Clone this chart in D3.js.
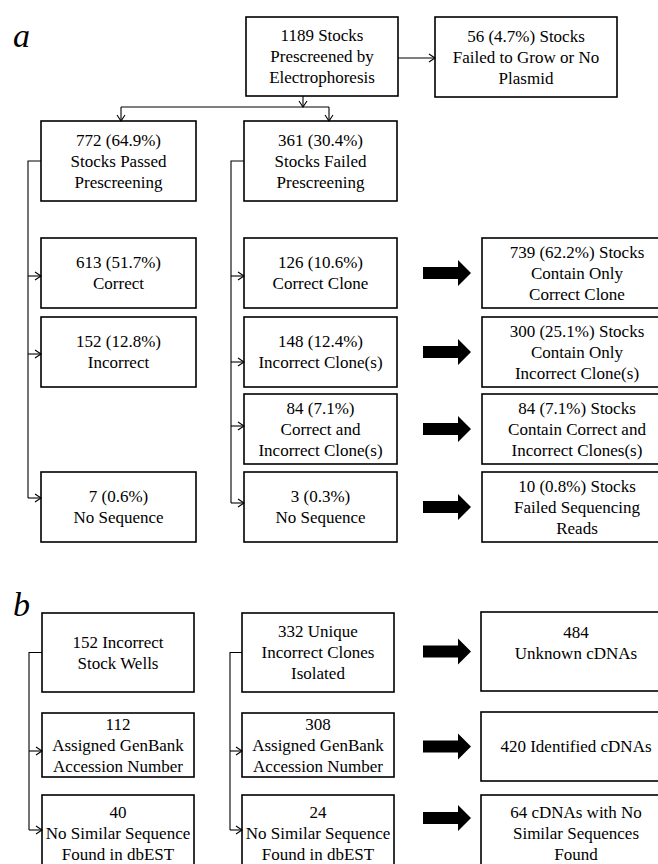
<!DOCTYPE html>
<html>
<head>
<meta charset="utf-8">
<script src="https://cdn.jsdelivr.net/npm/d3@7"></script>
<style>
  body { margin: 0; background: #fff; }
</style>
</head>
<body>
<div id="chart"></div>
<script>
// box texts, one array per column, one entry per row (null = no box)
var startBox = ["1189 Stocks", "Prescreened by", "Electrophoresis"];
var failBox = ["56 (4.7%) Stocks", "Failed to Grow or No", "Plasmid"];

var passedCol = [
  ["772 (64.9%)", "Stocks Passed", "Prescreening"],
  ["613 (51.7%)", "Correct"],
  ["152 (12.8%)", "Incorrect"],
  null,
  ["7 (0.6%)", "No Sequence"]
];
var failedCol = [
  ["361 (30.4%)", "Stocks Failed", "Prescreening"],
  ["126 (10.6%)", "Correct Clone"],
  ["148 (12.4%)", "Incorrect Clone(s)"],
  ["84 (7.1%)", "Correct and", "Incorrect Clone(s)"],
  ["3 (0.3%)", "No Sequence"]
];
var summaryCol = [
  null,
  ["739 (62.2%) Stocks", "Contain Only", "Correct Clone"],
  ["300 (25.1%) Stocks", "Contain Only", "Incorrect Clone(s)"],
  ["84 (7.1%) Stocks", "Contain Correct and", "Incorrect Clones(s)"],
  ["10 (0.8%) Stocks", "Failed Sequencing", "Reads"]
];

var wellsCol = [
  ["152 Incorrect", "Stock Wells"],
  ["112", "Assigned GenBank", "Accession Number"],
  ["40", "No Similar Sequence", "Found in dbEST"]
];
var clonesCol = [
  ["332 Unique", "Incorrect Clones", "Isolated"],
  ["308", "Assigned GenBank", "Accession Number"],
  ["24", "No Similar Sequence", "Found in dbEST"]
];
var cdnaCol = [
  ["484", "Unknown cDNAs"],
  ["420 Identified cDNAs"],
  ["64 cDNAs with No", "Similar Sequences", "Found"]
];

var width = 658, height = 864;
var fs = 17, lh = 21;
var serif = "'Liberation Serif', 'Times New Roman', Times, 'DejaVu Serif', serif";

var svg = d3.select("#chart").append("svg")
    .attr("width", width)
    .attr("height", height)
    .attr("font-family", serif);

// layout scales
var colA = d3.scaleOrdinal().domain(["c1", "c2", "c3"]).range([[41, 155], [244, 153], [482, 190]]);
var rowA = d3.scaleOrdinal().domain([0, 1, 2, 3, 4]).range([[121, 80], [238, 70], [317, 70], [394, 70], [472, 70]]);
var colB = d3.scaleOrdinal().domain(["c1", "c2", "c3"]).range([[42, 152], [242, 152], [481, 190]]);
var rowB = d3.scaleOrdinal().domain([0, 1, 2]).range([[613, 79], [713, 64], [795, 76]]);
var rowB3 = d3.scaleOrdinal().domain([0, 1, 2]).range([[612, 79], [712, 69], [795, 76]]);

function drawBox(x, y, w, h, lines, dy) {
  var g = svg.append("g");
  g.append("rect")
      .attr("x", x).attr("y", y)
      .attr("width", w).attr("height", h)
      .attr("fill", "none")
      .attr("stroke", "#000")
      .attr("stroke-width", 1.6);
  var cy = y + h / 2 + (dy || 0);
  g.selectAll("text").data(lines).enter().append("text")
      .attr("x", x + w / 2)
      .attr("y", function (d, i) { return cy + (i - (lines.length - 1) / 2) * lh + fs * 0.34; })
      .attr("text-anchor", "middle")
      .attr("font-family", serif)
      .attr("font-size", fs)
      .attr("fill", "#000")
      .text(function (d) { return d; });
}

function line(pts) {
  svg.append("path")
      .attr("d", d3.line()(pts))
      .attr("fill", "none")
      .attr("stroke", "#000")
      .attr("stroke-width", 1.1);
}

// small open arrowhead, tip at (x, y); dir "r" or "d"
function head(x, y, dir) {
  var p = dir === "r" ? [[x - 6, y - 4], [x, y], [x - 6, y + 4]] : [[x - 4, y - 6], [x, y], [x + 4, y - 6]];
  line(p);
}

function bigArrow(y) {
  var x0 = 423, xb = 458, x1 = 471;
  svg.append("path")
      .attr("d", d3.line()([[x0, y - 6], [xb, y - 6], [xb, y - 13], [x1, y], [xb, y + 13], [xb, y + 6], [x0, y + 6]]) + "Z")
      .attr("fill", "#000");
}

function colBoxes(data, col, colScale, rowScale, offs) {
  data.forEach(function (lines, i) {
    if (!lines) return;
    var c = colScale(col), r = rowScale(i);
    drawBox(c[0], r[0], c[1], r[1], lines, offs ? offs[i] : 0);
  });
}

// ---- panel a ----
svg.append("text").attr("x", 13).attr("y", 47)
    .attr("font-family", serif)
    .attr("font-size", 34).attr("font-style", "italic").text("a");

drawBox(246, 17, 152, 79, startBox);
drawBox(435, 17, 182, 80, failBox);
line([[398, 58], [435, 58]]); head(435, 58, "r");
line([[303, 96], [303, 107]]); head(303, 107, "d");
line([[121, 107], [329, 107]]);
line([[121, 107], [121, 121]]); head(121, 121, "d");
line([[329, 107], [329, 121]]); head(329, 121, "d");

colBoxes(passedCol, "c1", colA, rowA);
colBoxes(failedCol, "c2", colA, rowA);
colBoxes(summaryCol, "c3", colA, rowA);

function bracket(data, col, colScale, rowScale, bx, offs) {
  var c = colScale(col);
  var r0 = rowScale(0);
  var y0 = r0[0] + r0[1] / 2;
  var ys = [];
  data.forEach(function (d, i) {
    if (i === 0 || !d) return;
    var r = rowScale(i);
    ys.push(r[0] + r[1] / 2 + (offs ? offs[i] : 0));
  });
  line([[c[0], y0], [bx, y0], [bx, d3.max(ys)]]);
  ys.forEach(function (y) {
    line([[bx, y], [c[0], y]]);
    head(c[0], y, "r");
  });
}

bracket(passedCol, "c1", colA, rowA, 28, [0, 3, 2, 0, -9]);
bracket(failedCol, "c2", colA, rowA, 231, [0, 3, 10, -3, -4]);

summaryCol.forEach(function (d, i) {
  if (!d) return;
  var r = rowA(i);
  bigArrow(r[0] + r[1] / 2);
});

// ---- panel b ----
svg.append("text").attr("x", 13).attr("y", 616)
    .attr("font-family", serif)
    .attr("font-size", 34).attr("font-style", "italic").text("b");

colBoxes(wellsCol, "c1", colB, rowB);
colBoxes(clonesCol, "c2", colB, rowB);
colBoxes(cdnaCol, "c3", colB, rowB3, [-9, 0, 0]);

bracket(wellsCol, "c1", colB, rowB, 29, [0, 6, -3]);
bracket(clonesCol, "c2", colB, rowB, 230, [0, 6, -3]);

cdnaCol.forEach(function (d, i) {
  var r = rowB3(i);
  bigArrow(r[0] + r[1] / 2 + (i === 2 ? -15 : 0));
});
</script>
</body>
</html>
